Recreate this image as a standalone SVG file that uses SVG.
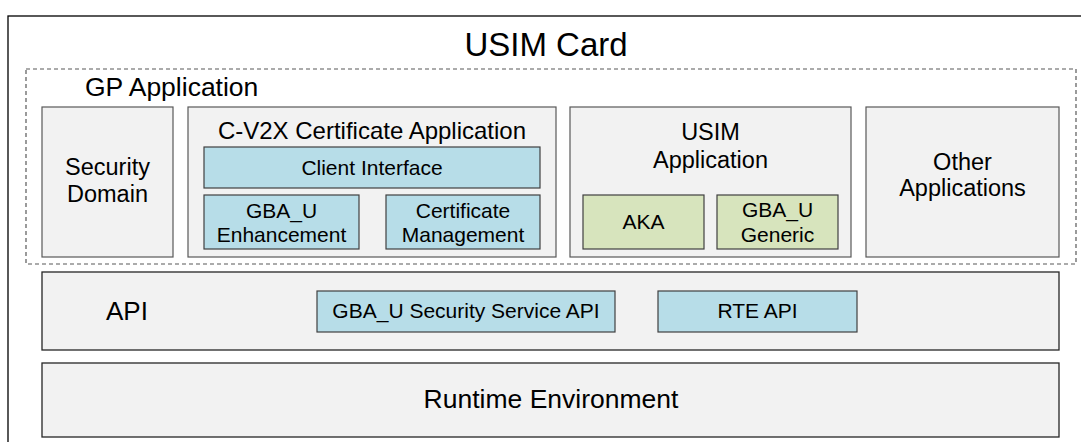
<svg xmlns="http://www.w3.org/2000/svg" width="1081" height="442" viewBox="0 0 1081 442">
<style>
text{font-family:"Liberation Sans",Arial,sans-serif;fill:#000;text-anchor:middle}
.grp{fill:#f2f2f2;stroke:#595959;stroke-width:1.2}
.layer{fill:#f2f2f2;stroke:#262626;stroke-width:1.3}
.blue{fill:#b7dde8;stroke:#404040;stroke-width:1.2}
.green{fill:#d7e4bd;stroke:#404040;stroke-width:1.2}
.t23{font-size:23.5px}
.t21{font-size:21px}
</style>
<rect width="1081" height="442" fill="#fff"/>
<g id="usim-card">
<rect x="8" y="16" width="1100" height="460" fill="none" stroke="#000" stroke-width="1.3"/>
<text x="546" y="56" font-size="33">USIM Card</text>
</g>
<g id="gp-application">
<rect x="26" y="69" width="1050" height="195" fill="none" stroke="#595959" stroke-width="1.2" stroke-dasharray="4,3"/>
<text x="85" y="96" font-size="26.5" style="text-anchor:start">GP Application</text>
</g>
<g id="security-domain">
<rect class="grp" x="42" y="107" width="131" height="150"/>
<text class="t23" x="107.5" y="175">Security</text>
<text class="t23" x="107.5" y="202">Domain</text>
</g>
<g id="cv2x-app">
<rect class="grp" x="188" y="107" width="368" height="150"/>
<text x="372" y="139" font-size="24">C-V2X Certificate Application</text>
</g>
<g id="client-interface">
<rect class="blue" x="204" y="147" width="336" height="41"/>
<text class="t21" x="372" y="175">Client Interface</text>
</g>
<g id="gba-u-enhancement">
<rect class="blue" x="204" y="195" width="155" height="54"/>
<text class="t21" x="281.5" y="218">GBA_U</text>
<text class="t21" x="281.5" y="242">Enhancement</text>
</g>
<g id="certificate-management">
<rect class="blue" x="386" y="195" width="154" height="54"/>
<text class="t21" x="463" y="218">Certificate</text>
<text class="t21" x="463" y="242">Management</text>
</g>
<g id="usim-app">
<rect class="grp" x="570" y="107" width="281" height="150"/>
<text class="t23" x="710.5" y="140">USIM</text>
<text class="t23" x="710.5" y="168">Application</text>
</g>
<g id="aka">
<rect class="green" x="583" y="195" width="121" height="54"/>
<text class="t21" x="643.5" y="229">AKA</text>
</g>
<g id="gba-u-generic">
<rect class="green" x="717" y="195" width="121" height="54"/>
<text class="t21" x="777.5" y="217">GBA_U</text>
<text class="t21" x="777.5" y="242">Generic</text>
</g>
<g id="other-applications">
<rect class="grp" x="866" y="107" width="193" height="150"/>
<text class="t23" x="962.5" y="170">Other</text>
<text class="t23" x="962.5" y="196">Applications</text>
</g>
<g id="api">
<rect class="layer" x="42" y="272" width="1017" height="78"/>
<text x="127" y="320" font-size="26">API</text>
</g>
<g id="gba-u-ss-api">
<rect class="blue" x="317" y="291" width="298" height="41"/>
<text class="t21" x="466" y="318">GBA_U Security Service API</text>
</g>
<g id="rte-api">
<rect class="blue" x="658" y="291" width="199" height="41"/>
<text class="t21" x="757.5" y="318">RTE API</text>
</g>
<g id="runtime">
<rect class="layer" x="42" y="363" width="1017" height="74"/>
<text x="551" y="408" font-size="26.5">Runtime Environment</text>
</g>
<g id="connectors"></g>
</svg>
